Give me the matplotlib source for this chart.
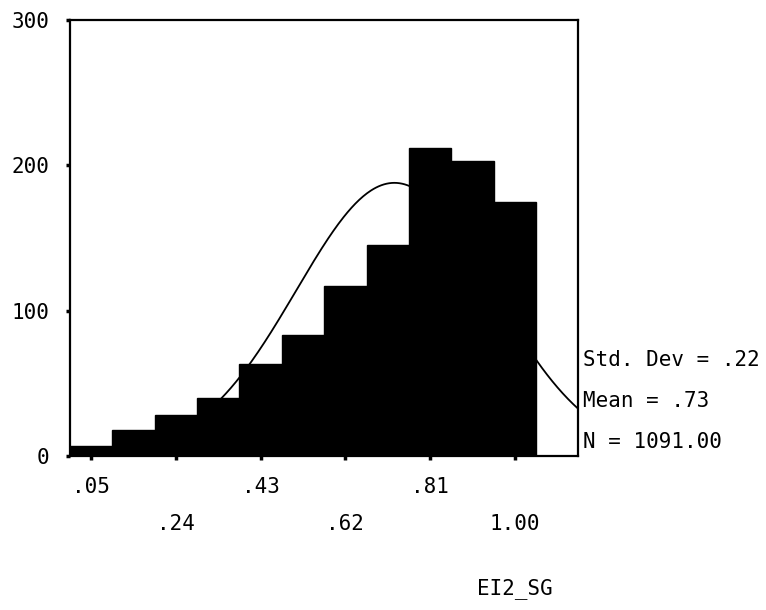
import numpy as np
import matplotlib.pyplot as plt

# Данные гистограммы (центры интервалов и частоты)
bin_centers = [0.05, 0.145, 0.24, 0.335, 0.43, 0.525, 0.62, 0.715, 0.81, 0.905, 1.00]
counts = [7, 18, 28, 40, 63, 83, 117, 145, 212, 203, 175]
bin_width = 0.095

# Статистики из подписи
std_dev = 0.22
mean = 0.73
n_total = 1091.00

row1_ticks = [0.05, 0.43, 0.81]
row1_labels = [".05", ".43", ".81"]
row2_ticks = [0.24, 0.62, 1.00]
row2_labels = [".24", ".62", "1.00"]
y_ticks = [0, 100, 200, 300]

FONT = "DejaVu Sans Mono"
FS = 15


def normal_curve(x):
    peak = n_total * bin_width / (std_dev * np.sqrt(2 * np.pi))
    return peak * np.exp(-0.5 * ((x - mean) / std_dev) ** 2)


def main():
    fig = plt.figure(figsize=(7.66, 6.10), dpi=100)
    ax = fig.add_axes([70 / 766, 1 - 456 / 610, 508 / 766, 436 / 610])

    ax.bar(bin_centers, counts, width=bin_width, color="black",
           edgecolor="black", linewidth=1.0, zorder=2)

    xs = np.linspace(0.0, 1.16, 400)
    ax.plot(xs, normal_curve(xs), color="black", lw=1.3, zorder=3)

    ax.set_xlim(0.0025, 1.1418)
    ax.set_ylim(0, 300)

    ax.set_yticks(y_ticks)
    ax.set_yticklabels([str(v) for v in y_ticks], fontfamily=FONT, fontsize=FS)
    ax.set_xticks(row1_ticks)
    ax.set_xticklabels(row1_labels, fontfamily=FONT, fontsize=FS)
    ax.set_xticks(row2_ticks, minor=True)
    ax.set_xticklabels(row2_labels, minor=True, fontfamily=FONT, fontsize=FS)

    ax.tick_params(axis="x", which="both", length=3, width=2.5, direction="out")
    ax.tick_params(axis="x", which="major", pad=12)
    ax.tick_params(axis="x", which="minor", pad=39)
    ax.tick_params(axis="y", length=3, width=2.5, pad=12)

    for sp in ax.spines.values():
        sp.set_linewidth(1.6)
        sp.set_zorder(4)

    stats = [f"Std. Dev = .{int(round(std_dev * 100))}",
             f"Mean = .{int(round(mean * 100))}",
             f"N = {n_total:.2f}"]
    for i, s in enumerate(stats):
        fig.text(583 / 766, 1 - (360 + 41 * i) / 610, s, fontfamily=FONT,
                 fontsize=FS, ha="left", va="center")

    fig.text(515 / 766, 1 - 589 / 610, "EI2_SG", fontfamily=FONT,
             fontsize=FS, ha="center", va="center")

    fig.savefig("out.png", dpi=100)


if __name__ == "__main__":
    main()
